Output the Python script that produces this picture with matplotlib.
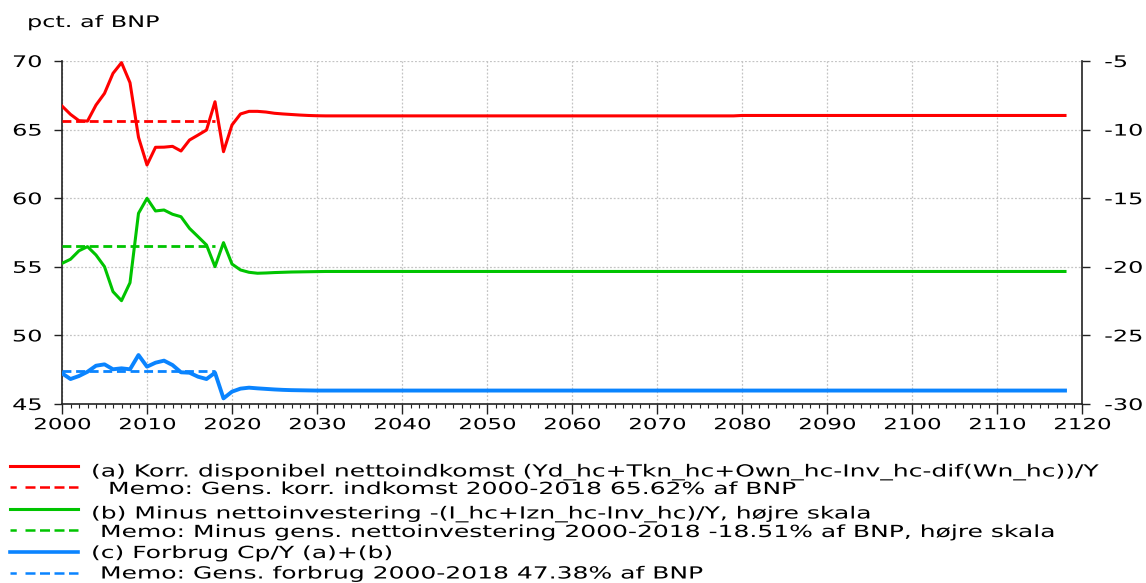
import matplotlib
matplotlib.use("Agg")
import matplotlib.pyplot as plt
from matplotlib.lines import Line2D
from matplotlib.ticker import MultipleLocator
from matplotlib.patheffects import AbstractPathEffect
from matplotlib.transforms import Affine2D

plt.rcParams['font.family'] = ['DejaVu Sans']
plt.rcParams['axes.unicode_minus'] = False

# År 2000-2118
years = list(range(2000, 2119))

# (a) Korr. disponibel nettoindkomst, pct. af BNP (venstre skala)
indkomst = [66.72, 66.11, 65.65, 65.62, 66.79, 67.64, 69.10, 69.88, 68.42, 64.44,
            62.42, 63.71, 63.72, 63.78, 63.44, 64.24, 64.60, 64.97, 67.03, 63.39,
            65.34, 66.14, 66.33, 66.33, 66.28, 66.19, 66.14, 66.10, 66.06, 66.03,
            66.01] + [66.00] * 49 + [66.03] * 39

# (b) Minus nettoinvestering, pct. af BNP (højre skala)
investering = [-19.75, -19.45, -18.83, -18.53, -19.14, -19.99, -21.81, -22.47, -21.16, -16.10,
               -15.01, -15.93, -15.86, -16.17, -16.35, -17.20, -17.80, -18.41, -19.99, -18.24,
               -19.80, -20.23, -20.40, -20.47, -20.45, -20.42, -20.40, -20.38, -20.37, -20.36,
               -20.35] + [-20.34] * 88

# (c) Forbrug Cp/Y, pct. af BNP (venstre skala)
forbrug = [47.24, 46.82, 47.04, 47.35, 47.79, 47.89, 47.53, 47.60, 47.53, 48.57,
           47.72, 48.01, 48.16, 47.84, 47.31, 47.28, 46.99, 46.82, 47.28, 45.41,
           45.90, 46.12, 46.19, 46.14, 46.10, 46.06, 46.03, 46.01, 46.00, 45.99,
           45.98] + [45.98] * 88

# Gennemsnit 2000-2018
memo_years = [2000, 2018]
memo_indkomst = [65.62, 65.62]
memo_investering = [-18.51, -18.51]
memo_forbrug = [47.38, 47.38]

RED = '#ff0000'
GREEN = '#00c400'
BLUE = '#0a84ff'
DASH = (0, (3.2, 1.7))
SX = 1.5  # vandret strækning af teksten


class StretchX(AbstractPathEffect):
    """Strækker tekstens glyffer vandret omkring venstre, midte eller højre kant."""

    def __init__(self, sx=SX, anchor='left'):
        super().__init__()
        self.sx = sx
        self.anchor = anchor

    def draw_path(self, renderer, gc, tpath, affine, rgbFace=None):
        xs = affine.transform(tpath.vertices)[:, 0]
        if self.anchor == 'left':
            x0 = xs.min()
        elif self.anchor == 'right':
            x0 = xs.max()
        else:
            x0 = 0.5 * (xs.min() + xs.max())
        tr = affine + Affine2D().translate(-x0, 0).scale(self.sx, 1).translate(x0, 0)
        renderer.draw_path(gc, tpath, tr, rgbFace)


fig = plt.figure(figsize=(11.46, 5.83), dpi=100)
ax = fig.add_axes([62 / 1146, 1 - 404 / 583, (1082 - 62) / 1146, 343 / 583])
ax2 = ax.twinx()

ax.plot(years, indkomst, color=RED, lw=2.2, zorder=3)
ax.plot(memo_years, memo_indkomst, color=RED, lw=2.0, ls=DASH, zorder=3)
ax.plot(years, forbrug, color=BLUE, lw=2.8, zorder=3)
ax.plot(memo_years, memo_forbrug, color=BLUE, lw=2.0, ls=DASH, zorder=3)
ax2.plot(years, investering, color=GREEN, lw=2.2, zorder=3)
ax2.plot(memo_years, memo_investering, color=GREEN, lw=2.0, ls=DASH, zorder=3)

ax.set_xlim(2000, 2120)
ax.set_ylim(45, 70)
ax2.set_ylim(-30, -5)
ax.xaxis.set_major_locator(MultipleLocator(10))
ax.xaxis.set_minor_locator(MultipleLocator(1))
ax.yaxis.set_major_locator(MultipleLocator(5))
ax2.yaxis.set_major_locator(MultipleLocator(5))

ax.grid(True, color='#c4c4c4', ls=(0, (1.5, 1.5)), lw=0.9)
ax.set_axisbelow(True)

for a in (ax, ax2):
    a.spines['top'].set_visible(False)
    for s in ('left', 'right', 'bottom'):
        a.spines[s].set_color('#222222')
        a.spines[s].set_linewidth(1.2)
ax.spines['right'].set_visible(False)
ax2.spines['left'].set_visible(False)
ax2.spines['bottom'].set_visible(False)

ax.tick_params(axis='y', which='major', labelsize=11.5, length=5.5, width=1,
               color='#222222', pad=9)
ax.tick_params(axis='x', which='major', labelsize=11, length=7, width=1,
               color='#222222', pad=2.5)
ax.tick_params(axis='x', which='minor', length=3, width=0.8, color='#222222')
ax2.tick_params(axis='y', which='major', labelsize=11.5, length=6, width=1,
                color='#222222', pad=10)

title = fig.text(27 / 1146, 1 - 27 / 583, 'pct. af BNP', fontsize=11.5,
                 va='baseline', ha='left')
title.set_path_effects([StretchX(anchor='left')])

# Signaturforklaring
entries = [
    (RED, '-', '(a) Korr. disponibel nettoindkomst (Yd_hc+Tkn_hc+Own_hc-Inv_hc-dif(Wn_hc))/Y', 91, 476.5),
    (RED, '--', 'Memo: Gens. korr. indkomst 2000-2018 65.62% af BNP', 108, 494),
    (GREEN, '-', '(b) Minus nettoinvestering -(I_hc+Izn_hc-Inv_hc)/Y, højre skala', 91, 518.5),
    (GREEN, '--', 'Memo: Minus gens. nettoinvestering 2000-2018 -18.51% af BNP, højre skala', 100, 537),
    (BLUE, '-', '(c) Forbrug Cp/Y (a)+(b)', 91, 558),
    (BLUE, '--', 'Memo: Gens. forbrug 2000-2018 47.38% af BNP', 100, 578.5),
]
for i, (col, style, label, tx, base) in enumerate(entries):
    y = 466 + i * 21.4
    yf = 1 - y / 583
    if style == '-':
        fig.add_artist(Line2D([10 / 1146, 78 / 1146], [yf, yf], color=col,
                              lw=2.6 if col == BLUE else 2.2,
                              transform=fig.transFigure))
    else:
        fig.add_artist(Line2D([10 / 1146, 78 / 1146], [yf, yf], color=col, lw=1.8,
                              ls=(0, (2.5, 3.5, 4, 1.8, 4, 1.8, 4, 1.8, 4, 1.8, 4, 1.8)),
                              transform=fig.transFigure))
    t = fig.text(tx / 1146, 1 - base / 583, label, fontsize=12, va='baseline', ha='left')
    t.set_path_effects([StretchX(anchor='left')])

# Tick-etiketterne findes først efter en tegning
fig.canvas.draw()
for lab in ax.get_xticklabels():
    lab.set_path_effects([StretchX(anchor='center')])
for lab in ax.get_yticklabels():
    lab.set_path_effects([StretchX(anchor='right')])
for lab in ax2.get_yticklabels():
    lab.set_path_effects([StretchX(anchor='left')])

fig.savefig('out.png', dpi=100)
